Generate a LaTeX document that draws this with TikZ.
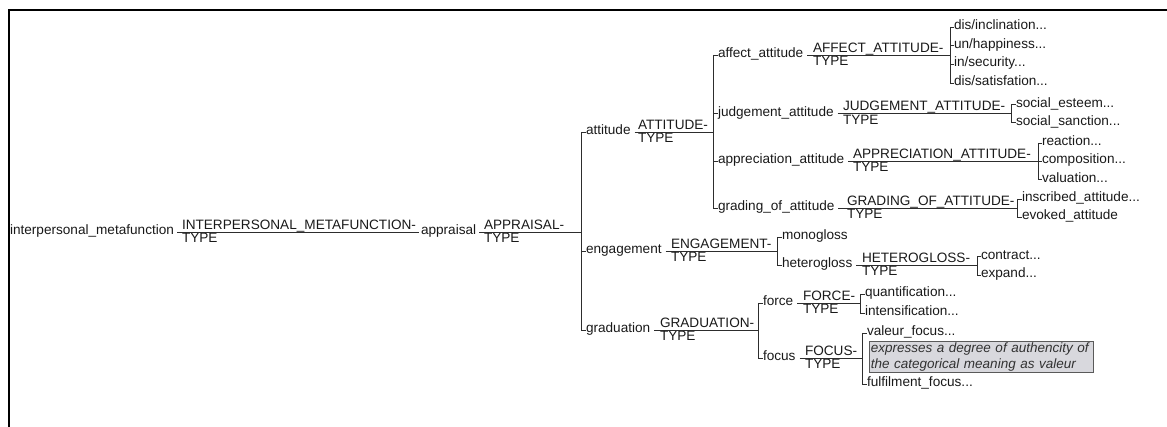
\documentclass[tikz,border=0pt]{standalone}
\usepackage{fontspec}
\setmainfont{Liberation Sans}
\definecolor{txt}{RGB}{25,25,25}
\definecolor{ln}{RGB}{45,45,45}
\definecolor{notefill}{RGB}{216,216,221}
\definecolor{notedraw}{RGB}{90,90,90}
\definecolor{notetxt}{RGB}{50,50,50}
\newcommand\fs{\fontsize{13.6}{15.5}\selectfont}
\newcommand\fsnote{\fontsize{13.5}{15.5}\selectfont}
\tikzset{
  nm/.style={inner sep=0pt, outer sep=0pt, font=\fs, text=txt, anchor=mid west},
  ty/.style={inner sep=0pt, outer sep=0pt, font=\fs, text=txt, anchor=base west},
  tp/.style={inner sep=0pt, outer sep=0pt, font=\fs, text=txt, anchor=north west},
  conn/.style={draw=ln, line width=0.9pt},
  frameline/.style={draw=black, line width=2.4pt},
  note/.style={draw=notedraw, fill=notefill, line width=0.9pt, font=\fsnote\itshape, text=notetxt,
    anchor=north west, align=left, inner xsep=1.5pt, inner ysep=1.5pt, text width=221pt}
}
\newcommand\fracnode[6]{%
  % id, name x, line y, name, type x, type text
  \node[nm] (n-#1) at (#2,#3) {#4};
  \node[ty] (t-#1) at (#5,#3-2.5) {#6};
  \node[tp] (y-#1) at (#5,#3+1.5) {TYPE};
}
\newcommand\leafnode[4]{%
  \node[nm] (n-#1) at (#2,#3) {#4};
}
\begin{document}
\begin{tikzpicture}[x=1pt,y=-1pt]
\useasboundingbox (0,0) rectangle (1167,427);
\coordinate (fr-tl) at (9,10);
\coordinate (fr-tr) at (1167,10);
\coordinate (fr-bl) at (9,427);
\draw[frameline] (fr-tr) -- (fr-tl) -- (fr-bl);

% root chain
\fracnode{root}{10}{232}{interpersonal\_metafunction}{182}{INTERPERSONAL\_METAFUNCTION-}
\fracnode{appr}{421}{232}{appraisal}{484}{APPRAISAL-}
\coordinate (b-appr) at (581,232);
\draw[conn] ([xshift=3pt]n-root.mid east) -- ([xshift=-2pt]n-appr.mid west);
\draw[conn] ([xshift=3pt]n-appr.mid east) -- (b-appr);

% appraisal children
\fracnode{att}{586}{132}{attitude}{638}{ATTITUDE-}
\fracnode{eng}{586}{251}{engagement}{671}{ENGAGEMENT-}
\fracnode{gra}{586}{330}{graduation}{660}{GRADUATION-}
\draw[conn] (b-appr |- n-att.mid west) -- (b-appr |- n-gra.mid west);
\foreach \c in {att,eng,gra} \draw[conn] (b-appr |- n-\c.mid west) -- ([xshift=-0.5pt]n-\c.mid west);

% attitude
\coordinate (b-att) at (713,132);
\draw[conn] ([xshift=4pt]n-att.mid east) -- (b-att);
\fracnode{aff}{718}{55}{affect\_attitude}{813}{AFFECT\_ATTITUDE-}
\fracnode{jud}{718}{113.5}{judgement\_attitude}{843}{JUDGEMENT\_ATTITUDE-}
\fracnode{app}{718}{161}{appreciation\_attitude}{853}{APPRECIATION\_ATTITUDE-}
\fracnode{grd}{718}{208}{grading\_of\_attitude}{847}{GRADING\_OF\_ATTITUDE-}
\draw[conn] (b-att |- n-aff.mid west) -- (b-att |- n-grd.mid west);
\foreach \c in {aff,jud,app,grd} \draw[conn] (b-att |- n-\c.mid west) -- ([xshift=-0.5pt]n-\c.mid west);

% affect
\coordinate (b-aff) at (950,55);
\draw[conn] ([xshift=4pt]n-aff.mid east) -- (b-aff);
\leafnode{a1}{954}{27}{dis/inclination...}
\leafnode{a2}{954}{45.7}{un/happiness...}
\leafnode{a3}{954}{64.3}{in/security...}
\leafnode{a4}{954}{83}{dis/satisfation...}
\draw[conn] (b-aff |- n-a1.mid west) -- (b-aff |- n-a4.mid west);
\foreach \c in {a1,a2,a3,a4} \draw[conn] (b-aff |- n-\c.mid west) -- ([xshift=-0.5pt]n-\c.mid west);

% judgement
\coordinate (b-jud) at (1011,113.5);
\draw[conn] ([xshift=4pt]n-jud.mid east) -- (b-jud);
\leafnode{j1}{1016}{104.5}{social\_esteem...}
\leafnode{j2}{1016}{122.5}{social\_sanction...}
\draw[conn] (b-jud |- n-j1.mid west) -- (b-jud |- n-j2.mid west);
\foreach \c in {j1,j2} \draw[conn] (b-jud |- n-\c.mid west) -- ([xshift=-0.5pt]n-\c.mid west);

% appreciation
\coordinate (b-app) at (1038,161);
\draw[conn] ([xshift=4pt]n-app.mid east) -- (b-app);
\leafnode{p1}{1042}{143}{reaction...}
\leafnode{p2}{1042}{161}{composition...}
\leafnode{p3}{1042}{179.5}{valuation...}
\draw[conn] (b-app |- n-p1.mid west) -- (b-app |- n-p3.mid west);
\foreach \c in {p1,p2,p3} \draw[conn] (b-app |- n-\c.mid west) -- ([xshift=-0.5pt]n-\c.mid west);

% grading
\coordinate (b-grd) at (1017,208);
\draw[conn] ([xshift=4pt]n-grd.mid east) -- (b-grd);
\leafnode{g1}{1022}{199}{inscribed\_attitude...}
\leafnode{g2}{1022}{217}{evoked\_attitude}
\draw[conn] (b-grd |- n-g1.mid west) -- (b-grd |- n-g2.mid west);
\foreach \c in {g1,g2} \draw[conn] (b-grd |- n-\c.mid west) -- ([xshift=-0.5pt]n-\c.mid west);

% engagement
\coordinate (b-eng) at (777,251);
\draw[conn] ([xshift=4pt]n-eng.mid east) -- (b-eng);
\leafnode{mono}{782}{237}{monogloss}
\fracnode{het}{782}{265}{heterogloss}{862}{HETEROGLOSS-}
\draw[conn] (b-eng |- n-mono.mid west) -- (b-eng |- n-het.mid west);
\foreach \c in {mono,het} \draw[conn] (b-eng |- n-\c.mid west) -- ([xshift=-0.5pt]n-\c.mid west);

% heterogloss
\coordinate (b-het) at (977,265);
\draw[conn] ([xshift=4pt]n-het.mid east) -- (b-het);
\leafnode{h1}{981}{256.5}{contract...}
\leafnode{h2}{981}{275}{expand...}
\draw[conn] (b-het |- n-h1.mid west) -- (b-het |- n-h2.mid west);
\foreach \c in {h1,h2} \draw[conn] (b-het |- n-\c.mid west) -- ([xshift=-0.5pt]n-\c.mid west);

% graduation
\coordinate (b-gra) at (758,330);
\draw[conn] ([xshift=4pt]n-gra.mid east) -- (b-gra);
\fracnode{frc}{763}{303}{force}{803}{FORCE-}
\fracnode{foc}{763}{358}{focus}{805}{FOCUS-}
\draw[conn] (b-gra |- n-frc.mid west) -- (b-gra |- n-foc.mid west);
\foreach \c in {frc,foc} \draw[conn] (b-gra |- n-\c.mid west) -- ([xshift=-0.5pt]n-\c.mid west);

% force
\coordinate (b-frc) at (860,303);
\draw[conn] ([xshift=4pt]n-frc.mid east) -- (b-frc);
\leafnode{f1}{865}{294}{quantification...}
\leafnode{f2}{865}{313}{intensification...}
\draw[conn] (b-frc |- n-f1.mid west) -- (b-frc |- n-f2.mid west);
\foreach \c in {f1,f2} \draw[conn] (b-frc |- n-\c.mid west) -- ([xshift=-0.5pt]n-\c.mid west);

% focus
\coordinate (b-foc) at (862,358);
\draw[conn] ([xshift=4pt]n-foc.mid east) -- (b-foc);
\leafnode{o1}{867}{333}{valeur\_focus...}
\leafnode{o2}{867}{384}{fulfilment\_focus...}
\draw[conn] (b-foc |- n-o1.mid west) -- (b-foc |- n-o2.mid west);
\foreach \c in {o1,o2} \draw[conn] (b-foc |- n-\c.mid west) -- ([xshift=-0.5pt]n-\c.mid west);
\node[note] (note) at (869,341) {expresses a degree of authencity of\\the categorical meaning as valeur};
\end{tikzpicture}
\end{document}
